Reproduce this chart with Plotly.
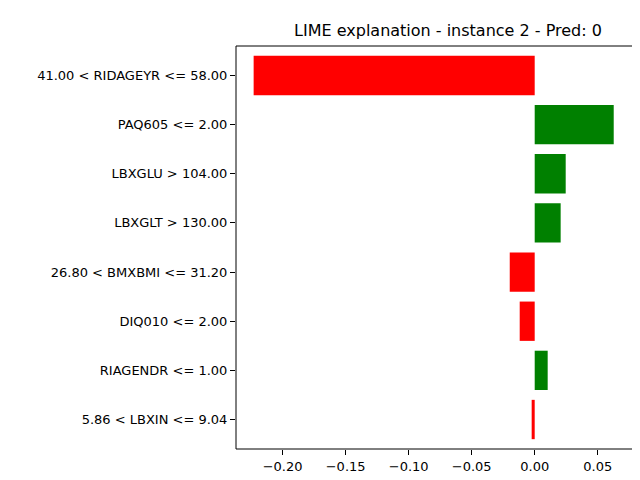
import plotly.graph_objects as go

features = ["41.00 < RIDAGEYR <= 58.00", "PAQ605 <= 2.00", "LBXGLU > 104.00",
            "LBXGLT > 130.00", "26.80 < BMXBMI <= 31.20", "DIQ010 <= 2.00",
            "RIAGENDR <= 1.00", "5.86 < LBXIN <= 9.04"]
weights = [-0.223, 0.0627, 0.0246, 0.0206, -0.0198, -0.0119, 0.0103, -0.0024]
colors = ["green" if w > 0 else "red" for w in weights]

fig = go.Figure(go.Bar(x=weights, y=list(range(len(features))), orientation="h",
                       marker=dict(color=colors, line=dict(width=0)), width=0.8))

ax = dict(showline=False, ticks="outside", automargin=False,
          ticklen=5, tickcolor="black", showgrid=False, zeroline=False)
fig.update_layout(
    width=640, height=480, plot_bgcolor="white", paper_bgcolor="white",
    font=dict(family="DejaVu Sans", size=13, color="black"),
    title=dict(text="LIME explanation - instance 2 - Pred: 0", x=0.6875, xanchor="center",
               y=0.965, font=dict(size=16)),
    margin=dict(l=228, r=15, t=38, b=39, autoexpand=False),
    showlegend=False,
    xaxis=dict(ax, range=[-0.237, 0.078], tickvals=[-0.2, -0.15, -0.1, -0.05, 0, 0.05],
               ticktext=["−0.20", "−0.15", "−0.10", "−0.05", "0.00", "0.05"]),
    yaxis=dict(ax, range=[len(features) - 0.4, -0.6], tickvals=list(range(len(features))),
               ticktext=features),
)
fig.add_shape(type="rect", xref="paper", yref="paper", x0=0, x1=1, y0=0, y1=1,
              line=dict(color="black", width=1), layer="above")
fig.write_html("out.html")
